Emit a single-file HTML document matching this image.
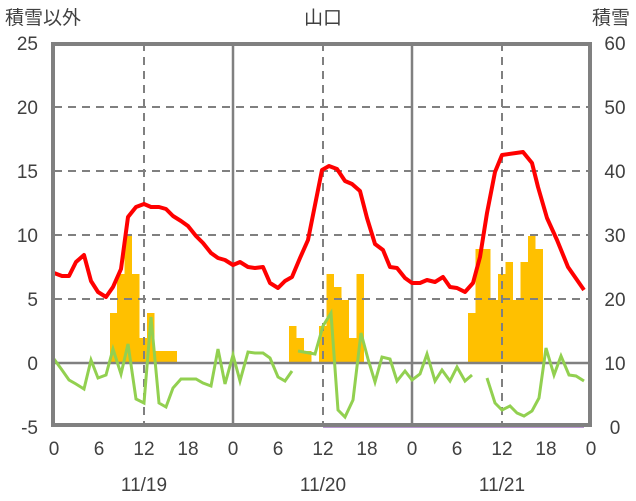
<!DOCTYPE html><html><head><meta charset="utf-8"><style>body{margin:0;background:#fff}svg{display:block}text{font-family:"Liberation Sans","Noto Sans CJK JP",sans-serif;fill:#404040;font-size:19px}</style></head><body>
<svg width="636" height="501" viewBox="0 0 636 501">
<g fill="#FFC000">
<rect x="110" y="313" width="7.5" height="50"/><rect x="117" y="274" width="7.5" height="89"/><rect x="124.5" y="236" width="7.5" height="127"/><rect x="132" y="274" width="7.5" height="89"/><rect x="139.5" y="338" width="7.5" height="25"/><rect x="147" y="313" width="7.5" height="50"/><rect x="154.5" y="351" width="22.5" height="12"/>
<rect x="289" y="326" width="7.5" height="37"/><rect x="296.5" y="338" width="7.5" height="25"/><rect x="304" y="351" width="7.5" height="12"/><rect x="319" y="326" width="7.5" height="37"/><rect x="326.5" y="274" width="7.5" height="89"/><rect x="334" y="287" width="7.5" height="76"/><rect x="341.5" y="300" width="7.5" height="63"/><rect x="349" y="338" width="7.5" height="25"/><rect x="356.5" y="274" width="7.5" height="89"/>
<rect x="468" y="313" width="7.5" height="50"/><rect x="475.5" y="249" width="15" height="114"/><rect x="490.5" y="300" width="7.5" height="63"/><rect x="498" y="274" width="7.5" height="89"/><rect x="505.5" y="262" width="7.5" height="101"/><rect x="513" y="300" width="7.5" height="63"/><rect x="520.5" y="262" width="7.5" height="101"/><rect x="528" y="236" width="7.5" height="127"/><rect x="535.5" y="249" width="7.5" height="114"/>
</g>
<g stroke="#808080" stroke-width="2" fill="none">
<path d="M54 107H591M54 171H591M54 235H591M54 299H591M144 43V427M323 43V427M502 43V427" stroke-dasharray="8,6"/>
<path d="M233 43V427M412 43V427M54 363H591" stroke-width="2.5"/>
</g>
<polyline fill="none" stroke="#92D050" stroke-width="3" points="54,359 62,370 69,380 76,384 84,389 91,360 98,378 106,375 113,349 121,374 128,344 136,399 144,403 151,317 159,403 166,407 173,388 181,379 188,379 196,379 203,383 211,386 218,349 225,384 233,355 240,381 248,352 255,353 263,353 270,358 278,377 285,381 292,371"/>
<polyline fill="none" stroke="#92D050" stroke-width="3" points="298,351 315,354 323,326 331,313 338,410 345,417 353,400 361,333 368,359 375,382 382,357 390,359 397,381 405,371 412,380 420,374 427,354 435,381 442,370 450,381 457,367 465,381 472,375"/>
<polyline fill="none" stroke="#92D050" stroke-width="3" points="487,378 495,403 502,410 510,406 517,413 524,416 532,411 539,398 546,348 554,375 561,356 569,375 576,376 584,381"/>
<polyline fill="none" stroke="#FF0000" stroke-width="4" stroke-linejoin="round" points="54,273 62,276 69,276 76,262 84,255 91,281 98,292 106,297 113,287 121,269 128,217 136,207 144,204 151,207 159,207 166,209 173,216 181,221 188,226 196,236 203,243 211,253 218,258 225,260 233,265 240,262 248,267 255,268 263,267 270,283 278,288 285,281 292,277 300,258 308,240 315,205 322,170 329,166 337,169 345,181 352,184 360,191 367,218 375,244 383,250 390,267 397,268 405,278 412,283 420,283 427,280 435,282 443,277 450,287 457,288 465,292 473,283 480,257 487,213 495,172 502,155 523,152 532,163 538,187 547,218 557,240 568,267 584,290"/>
<path d="M323 426H584" stroke="#7030A0" stroke-width="3"/>
<rect x="53" y="44" width="537" height="381" fill="none" stroke="#808080" stroke-width="4"/>
<g text-anchor="end"><text x="38" y="50">25</text><text x="38" y="114">20</text><text x="38" y="178">15</text><text x="38" y="242">10</text><text x="38" y="306">5</text><text x="38" y="370">0</text><text x="38" y="434">-5</text></g>
<g text-anchor="middle"><text x="615" y="50">60</text><text x="615" y="114">50</text><text x="615" y="178">40</text><text x="615" y="242">30</text><text x="615" y="306">20</text><text x="615" y="370">10</text><text x="615" y="434">0</text>
<text x="54" y="455">0</text><text x="99" y="455">6</text><text x="144" y="455">12</text><text x="188" y="455">18</text><text x="233" y="455">0</text><text x="278" y="455">6</text><text x="323" y="455">12</text><text x="367" y="455">18</text><text x="412" y="455">0</text><text x="457" y="455">6</text><text x="502" y="455">12</text><text x="546" y="455">18</text><text x="591" y="455">0</text>
<text x="144" y="491">11/19</text><text x="323" y="491">11/20</text><text x="502" y="491">11/21</text>
<text x="323" y="24">山口</text><text x="43" y="24">積雪以外</text><text x="611" y="24">積雪</text></g>
</svg></body></html>
